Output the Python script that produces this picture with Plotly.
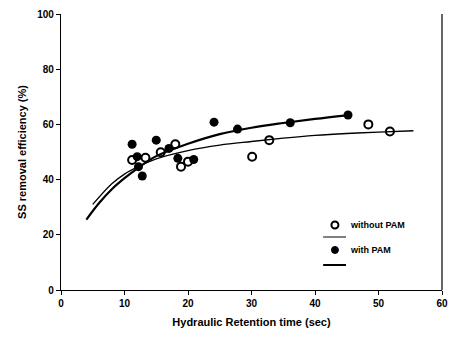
import plotly.graph_objects as go

# Data
hrt_without = [11.2, 13.3, 15.7, 18.0, 18.9, 20.0, 30.1, 32.8, 48.4, 51.8]
eff_without = [47.1, 47.9, 49.9, 52.8, 44.7, 46.5, 48.3, 54.3, 60.0, 57.4]

hrt_with = [11.2, 12.0, 12.2, 12.8, 15.0, 17.0, 18.4, 20.9, 24.1, 27.8, 36.1, 45.2]
eff_with = [52.8, 48.3, 44.7, 41.3, 54.3, 51.3, 47.7, 47.3, 60.8, 58.3, 60.6, 63.4]

curve_without_x = [5, 8, 10, 12, 15, 20, 25, 30, 35, 40, 45, 50, 55.5]
curve_without_y = [31, 38.5, 42, 44.5, 47.5, 50.5, 52.5, 53.8, 55, 56, 56.7, 57.2, 57.7]

curve_with_x = [4, 6, 8, 10, 12, 15, 20, 25, 30, 35, 40, 45]
curve_with_y = [25.5, 31.5, 36.5, 40.5, 44, 48.5, 53, 56.5, 58.8, 60.5, 62, 63.3]

x_ticks = [0, 10, 20, 30, 40, 50, 60]
y_ticks = [0, 20, 40, 60, 80, 100]

series_names = ["without PAM", "with PAM"]

font = dict(family="Liberation Sans, Arial, sans-serif", color="black")

fig = go.Figure()
fig.add_trace(go.Scatter(x=curve_without_x, y=curve_without_y, mode="lines",
                         line=dict(color="black", width=1.3, shape="spline"),
                         name=series_names[0], showlegend=False))
fig.add_trace(go.Scatter(x=curve_with_x, y=curve_with_y, mode="lines",
                         line=dict(color="black", width=2.2, shape="spline"),
                         name=series_names[1], showlegend=False))
fig.add_trace(go.Scatter(x=hrt_without, y=eff_without, mode="markers", name=series_names[0],
                         marker=dict(symbol="circle-open", size=8, color="black",
                                     line=dict(width=2, color="black")),
                         showlegend=False))
fig.add_trace(go.Scatter(x=hrt_with, y=eff_with, mode="markers", name=series_names[1],
                         marker=dict(symbol="circle", size=9, color="black"),
                         showlegend=False))

# Hand-built legend (marker above, line sample below) in paper coordinates
leg_sym_x = 0.719
leg_txt_x = 0.752
leg_line_x0, leg_line_x1 = 0.688, 0.748
rows = [
    dict(y_sym=0.2355, y_line=0.192, filled=False, lw=1.0, name=series_names[0]),
    dict(y_sym=0.145, y_line=0.0906, filled=True, lw=2.0, name=series_names[1]),
]
shapes = [dict(type="line", xref="paper", yref="paper", x0=1, x1=1, y0=0, y1=1,
               line=dict(color="black", width=1.2))]
annotations = []
for r in rows:
    shapes.append(dict(type="circle", xref="paper", yref="paper",
                       xsizemode="pixel", ysizemode="pixel",
                       xanchor=leg_sym_x, yanchor=r["y_sym"],
                       x0=-3.5, x1=3.5, y0=-3.5, y1=3.5,
                       fillcolor="black" if r["filled"] else "white",
                       line=dict(color="black", width=2 if not r["filled"] else 1)))
    shapes.append(dict(type="line", xref="paper", yref="paper",
                       x0=leg_line_x0, x1=leg_line_x1, y0=r["y_line"], y1=r["y_line"],
                       line=dict(color="black", width=r["lw"])))
    annotations.append(dict(xref="paper", yref="paper", x=leg_txt_x, y=r["y_sym"],
                            xanchor="left", yanchor="middle", showarrow=False,
                            text=r["name"], font=dict(size=9, weight="bold", **font)))

fig.update_layout(
    width=449, height=340,
    margin=dict(l=61, r=7, t=14, b=50, autoexpand=False),
    plot_bgcolor="white", paper_bgcolor="white",
    font=dict(size=10, **font),
    showlegend=False,
    xaxis=dict(range=[0, 60], tickvals=x_ticks, ticks="outside", ticklen=4,
               tickcolor="black", showline=True, linecolor="black", linewidth=1.2,
               showgrid=False, zeroline=False, automargin=False,
               tickfont=dict(size=10, weight="bold", **font),
               title=dict(text="Hydraulic Retention time (sec)", standoff=10,
                          font=dict(size=11, weight="bold", **font))),
    yaxis=dict(range=[0, 100], tickvals=y_ticks, ticks="outside", ticklen=4,
               tickcolor="black", showline=True, linecolor="black", linewidth=1.2,
               showgrid=False, zeroline=False, automargin=False,
               tickfont=dict(size=10, weight="bold", **font),
               title=dict(text="SS removal efficiency (%)", standoff=8,
                          font=dict(size=11, weight="bold", **font))),
    shapes=shapes,
    annotations=annotations,
)

fig.write_html("out.html")
